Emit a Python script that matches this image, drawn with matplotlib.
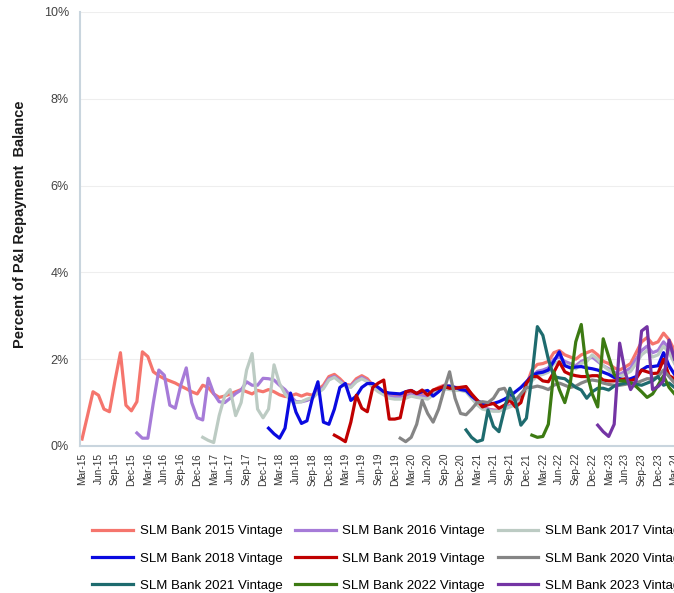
import matplotlib
matplotlib.use("Agg")
import matplotlib.pyplot as plt
import numpy as np

plt.rcParams['font.family'] = ['Liberation Sans', 'DejaVu Sans']

# month index 0 = Mar-15 ... 108 = Mar-24
tick_labels = ['Mar-15', 'Jun-15', 'Sep-15', 'Dec-15', 'Mar-16', 'Jun-16', 'Sep-16', 'Dec-16',
               'Mar-17', 'Jun-17', 'Sep-17', 'Dec-17', 'Mar-18', 'Jun-18', 'Sep-18', 'Dec-18',
               'Mar-19', 'Jun-19', 'Sep-19', 'Dec-19', 'Mar-20', 'Jun-20', 'Sep-20', 'Dec-20',
               'Mar-21', 'Jun-21', 'Sep-21', 'Dec-21', 'Mar-22', 'Jun-22', 'Sep-22', 'Dec-22',
               'Mar-23', 'Jun-23', 'Sep-23', 'Dec-23', 'Mar-24']

names = ['SLM Bank 2015 Vintage', 'SLM Bank 2016 Vintage', 'SLM Bank 2017 Vintage',
         'SLM Bank 2018 Vintage', 'SLM Bank 2019 Vintage', 'SLM Bank 2020 Vintage',
         'SLM Bank 2021 Vintage', 'SLM Bank 2022 Vintage', 'SLM Bank 2023 Vintage']
colors = ['#F5756D', '#A67BD8', '#BCCBC3', '#0A0AE0', '#C00000', '#858585',
          '#1E6B6E', '#3C7A12', '#7434A4']
start_month = [0, 10, 22, 34, 46, 58, 70, 82, 94]

v2015 = [0.16, 0.7, 1.25, 1.17, 0.85, 0.79, 1.5, 2.15, 0.94, 0.81, 1.02, 2.17, 2.06,
         1.71, 1.62, 1.55, 1.5, 1.45, 1.38, 1.32, 1.25, 1.2, 1.4, 1.35, 1.2, 1.12,
         1.15, 1.2, 1.25, 1.3, 1.25, 1.2, 1.28, 1.25, 1.3, 1.25, 1.18, 1.14, 1.15, 1.2, 1.15, 1.2,
         1.17, 1.3, 1.4, 1.6, 1.65, 1.55, 1.42, 1.4, 1.55, 1.62, 1.55, 1.4, 1.3, 1.25, 1.18, 1.15,
         1.14, 1.18, 1.21, 1.2, 1.18, 1.14,
         1.28, 1.35, 1.4, 1.38, 1.35, 1.35, 1.35, 1.2, 1.05, 0.9, 0.85, 0.83, 0.82, 0.88, 0.94,
         1.0, 1.1, 1.4, 1.75, 1.88, 1.9, 1.95,
         2.15, 2.2, 2.1, 2.05, 2.0, 2.1, 2.15, 2.2, 2.1, 1.95, 1.9, 1.8, 1.75, 1.82, 1.9, 2.15,
         2.4, 2.5, 2.35, 2.4, 2.6, 2.45, 2.2]
v2016 = [0.3, 0.18, 0.18, 1.0, 1.75, 1.63, 0.94, 0.87, 1.4, 1.8, 1.0, 0.65, 0.6,
         1.56, 1.21, 1.02, 1.0, 1.1, 1.21, 1.29, 1.48, 1.4, 1.4, 1.56, 1.55, 1.52, 1.4, 1.3,
         1.15, 1.02, 1.02, 1.05,
         1.1, 1.25, 1.35, 1.55, 1.6, 1.5, 1.4, 1.38, 1.5, 1.58, 1.5, 1.38, 1.3, 1.22, 1.15, 1.12,
         1.12, 1.15, 1.18, 1.15, 1.15, 1.12,
         1.22, 1.3, 1.35, 1.33, 1.3, 1.3, 1.3, 1.15, 1.0, 0.88, 0.85, 0.82, 0.82, 0.88, 0.92,
         0.98, 1.08, 1.35, 1.6, 1.72, 1.75, 1.8,
         2.0, 2.05, 1.95, 1.9, 1.85, 1.95, 2.0, 2.05, 1.95, 1.85, 1.78, 1.7, 1.65, 1.72, 1.8, 2.0,
         2.2, 2.3, 2.15, 2.2, 2.4, 2.25, 2.0]
v2017 = [0.2, 0.13, 0.08, 0.7, 1.15, 1.3, 0.7, 1.0, 1.75, 2.13, 0.85, 0.65, 0.85, 1.87, 1.44,
         1.2, 1.05, 1.0, 1.02, 1.08,
         1.12, 1.22, 1.32, 1.52, 1.58, 1.48, 1.38, 1.35, 1.48, 1.55, 1.48, 1.35, 1.25, 1.18, 1.1,
         1.08, 1.08, 1.1, 1.15, 1.12, 1.1, 1.08,
         1.18, 1.28, 1.32, 1.3, 1.28, 1.28, 1.25, 1.1, 0.95, 0.85, 0.82, 0.8, 0.8, 0.85, 0.9,
         0.95, 1.05, 1.3, 1.5, 1.62, 1.65, 1.7,
         1.9, 1.95, 1.88, 1.82, 1.78, 1.9, 1.95, 2.1, 2.0, 1.85, 1.75, 1.65, 1.6, 1.65, 1.72, 1.9,
         2.1, 2.2, 2.05, 2.1, 2.3, 2.15, 1.9]
v2018 = [0.41, 0.28, 0.18, 0.41, 1.22, 0.78, 0.52, 0.58,
         1.1, 1.48, 0.55, 0.5, 0.85, 1.35, 1.44, 1.05, 1.15, 1.35, 1.44, 1.44, 1.35, 1.25, 1.22,
         1.21, 1.2, 1.25, 1.28, 1.21, 1.25, 1.28,
         1.15, 1.25, 1.38, 1.38, 1.35, 1.3, 1.28, 1.15, 1.05, 0.98, 0.98, 0.98, 1.02, 1.08, 1.15,
         1.25, 1.35, 1.48, 1.62, 1.68, 1.7, 1.75,
         1.95, 2.17, 1.85, 1.8, 1.82, 1.83, 1.8, 1.78, 1.75, 1.7, 1.65, 1.58, 1.55, 1.52, 1.55,
         1.6, 1.75, 1.83, 1.83, 1.85, 2.15, 1.85, 1.65]
v2019 = [0.25, 0.18, 0.1, 0.55, 1.17, 0.87, 0.79, 1.35, 1.45, 1.52, 0.62, 0.62, 0.65, 1.25,
         1.28, 1.21, 1.29, 1.17,
         1.29, 1.33, 1.37, 1.33, 1.33, 1.35, 1.37, 1.2, 1.06, 0.9, 0.95, 0.98, 0.87, 0.94, 1.06,
         0.9, 1.0, 1.45, 1.6, 1.6, 1.5, 1.48,
         1.7, 1.94, 1.71, 1.65, 1.62, 1.6, 1.6, 1.62, 1.62, 1.52, 1.5, 1.5, 1.52, 1.55, 1.5, 1.55,
         1.75, 1.71, 1.67, 1.68, 2.0, 1.62, 1.55]
v2020 = [0.18, 0.1, 0.2, 0.5, 1.05, 0.75, 0.55, 0.85, 1.3, 1.71, 1.1, 0.75, 0.72, 0.85, 1.0,
         1.02, 1.0, 1.1, 1.3, 1.33, 1.1, 1.05, 1.2, 1.35, 1.35, 1.38, 1.35, 1.3,
         1.4, 1.45, 1.4, 1.35, 1.38, 1.45, 1.5, 1.52, 1.5, 1.45, 1.42, 1.4, 1.4, 1.42, 1.45, 1.45,
         1.5, 1.55, 1.55, 1.6, 1.75, 1.6, 1.45]
v2021 = [0.37, 0.2, 0.1, 0.14, 0.83, 0.45, 0.33, 0.85, 1.33, 1.02, 0.48, 0.64, 1.6, 2.75,
         2.55, 2.0, 1.6, 1.57, 1.55, 1.45, 1.35, 1.29, 1.1, 1.25, 1.33, 1.33, 1.29, 1.38, 1.42,
         1.45, 1.45, 1.42, 1.4, 1.45, 1.5, 1.6, 1.4, 1.45, 1.35]
v2022 = [0.25, 0.2, 0.22, 0.5, 1.71, 1.3, 1.0, 1.45, 2.4, 2.8, 1.7, 1.2, 0.9, 2.47, 2.06,
         1.65, 1.5, 1.5, 1.45, 1.37, 1.25, 1.12, 1.2, 1.4, 1.62, 1.35, 1.2]
v2023 = [0.48, 0.33, 0.22, 0.5, 2.37, 1.7, 1.3, 1.5, 2.65, 2.75, 1.3, 1.37, 1.5, 2.44, 2.0]

series = [v2015, v2016, v2017, v2018, v2019, v2020, v2021, v2022, v2023]

fig = plt.figure(figsize=(6.74, 5.93), dpi=100)
ax = fig.add_axes([80 / 674, 147 / 593, 600 / 674, 434 / 593])

handles = []
for name, col, s0, vals in zip(names, colors, start_month, series):
    x = np.arange(s0, s0 + len(vals))
    h, = ax.plot(x, vals, color=col, lw=2.3, label=name, solid_joinstyle='round')
    handles.append(h)

ax.set_xlim(-0.37, 109)
ax.set_ylim(0, 10)
ax.set_xticks(np.arange(0, 3 * len(tick_labels), 3))
ax.set_xticklabels(tick_labels, rotation=90, fontsize=7.3, color='#333333')
ax.set_yticks([0, 2, 4, 6, 8, 10])
ax.set_yticklabels(['0%', '2%', '4%', '6%', '8%', '10%'], fontsize=9, color='#444444')
ax.tick_params(axis='both', length=0)
ax.tick_params(axis='y', pad=8)
ax.tick_params(axis='x', pad=5)
ax.grid(axis='y', color='#EEEEEE', lw=0.8)
ax.set_axisbelow(True)
for sp in ['top', 'right']:
    ax.spines[sp].set_visible(False)
for sp in ['left', 'bottom']:
    ax.spines[sp].set_color('#C9D5DE')
    ax.spines[sp].set_linewidth(1.5)

ax.set_ylabel('Percent of P&I Repayment  Balance', fontsize=10.5, fontweight='bold',
              color='#1A1A1A')
ax.yaxis.set_label_coords(-0.089, 0.51)

order = [0, 3, 6, 1, 4, 7, 2, 5, 8]
fig.legend([handles[i] for i in order], [names[i] for i in order], ncol=3,
           loc='upper left', bbox_to_anchor=(92 / 674, 1 - 525 / 593), frameon=False,
           fontsize=9.5, handlelength=3.1, handletextpad=0.5, columnspacing=0.95,
           labelspacing=1.15, borderpad=0, borderaxespad=0)

fig.savefig('out.png', dpi=100)
